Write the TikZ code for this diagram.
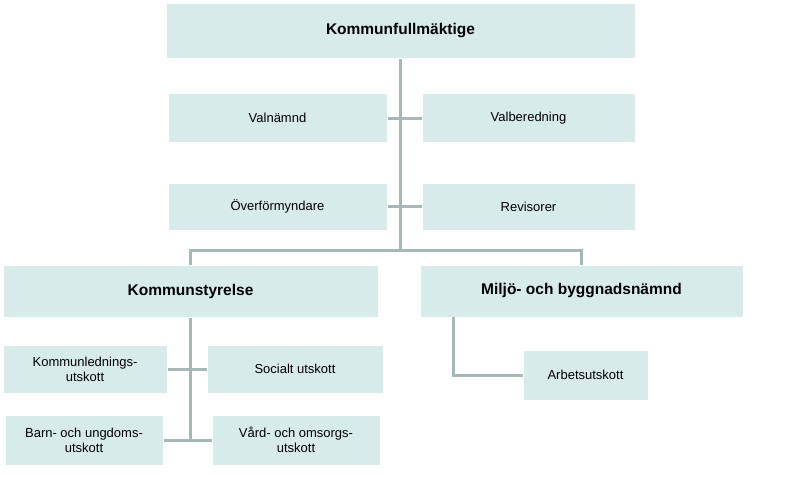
\documentclass[tikz,border=0pt]{standalone}
\usepackage{fontspec}
\setmainfont{Liberation Sans}
\usetikzlibrary{positioning}

\definecolor{boxfill}{HTML}{D8EBEB}
\definecolor{linecol}{HTML}{A5B7B7}

\begin{document}
\begin{tikzpicture}[x=1pt, y=-1pt,
  unit/.style={draw=white, line width=1pt, fill=boxfill, inner sep=2pt,
    align=center, font=\fontsize{13}{15}\selectfont},
  head/.style={unit, font=\fontsize{15.5}{18}\selectfont\bfseries},
  link/.style={draw=linecol, line width=3pt}]
  \useasboundingbox (0,0) rectangle (800,496);

  % Top level
  \node[head, minimum width=469pt, minimum height=55pt] (kf) at (400.5,30.5) {Kommunfullmäktige};

  % Bodies under the council
  \node[unit, minimum width=219pt, minimum height=49pt] (valn) at (277.5,118) {Valnämnd};
  \node[unit, minimum width=213pt, minimum height=49pt] (valb) at (528.5,118) {Valberedning};
  \node[unit, minimum width=219pt, minimum height=47pt] (overf) at (277.5,206.5) {Överförmyndare};
  \node[unit, minimum width=213pt, minimum height=47pt] (revis) at (528.5,206.5) {Revisorer};

  % Boards
  \node[head, minimum width=375pt, minimum height=52pt] (ks) at (190.5,291) {Kommunstyrelse};
  \node[head, minimum width=323pt, minimum height=52pt] (mbn) at (581.5,291) {Miljö- och byggnadsnämnd};

  % Committees
  \node[unit, minimum width=164pt, minimum height=48pt] (kled) at (85,369) {Kommunlednings-\\utskott};
  \node[unit, minimum width=176pt, minimum height=48pt] (soc) at (295,369) {Socialt utskott};
  \node[unit, minimum width=158pt, minimum height=50pt] (barn) at (84,440) {Barn- och ungdoms-\\utskott};
  \node[unit, minimum width=168pt, minimum height=50pt] (vard) at (296,440) {Vård- och omsorgs-\\utskott};
  \node[unit, minimum width=125pt, minimum height=50pt] (arb) at (585.5,375) {Arbetsutskott};

  % Connectors
  \coordinate (split) at (kf.south |- 0,250);
  \coordinate (mbnfoot) at (453,317);
  \draw[link] (kf.south) -- (split);
  \draw[link] (valn.east) -- (valb.west);
  \draw[link] (overf.east) -- (revis.west);
  \draw[link] (ks.north) |- (split) -| (mbn.north);
  \draw[link] (ks.south) -- (ks.south |- barn.east);
  \draw[link] (kled.east) -- (soc.west);
  \draw[link] (barn.east) -- (vard.west);
  \draw[link] (mbnfoot) |- (arb.west);
\end{tikzpicture}
\end{document}
